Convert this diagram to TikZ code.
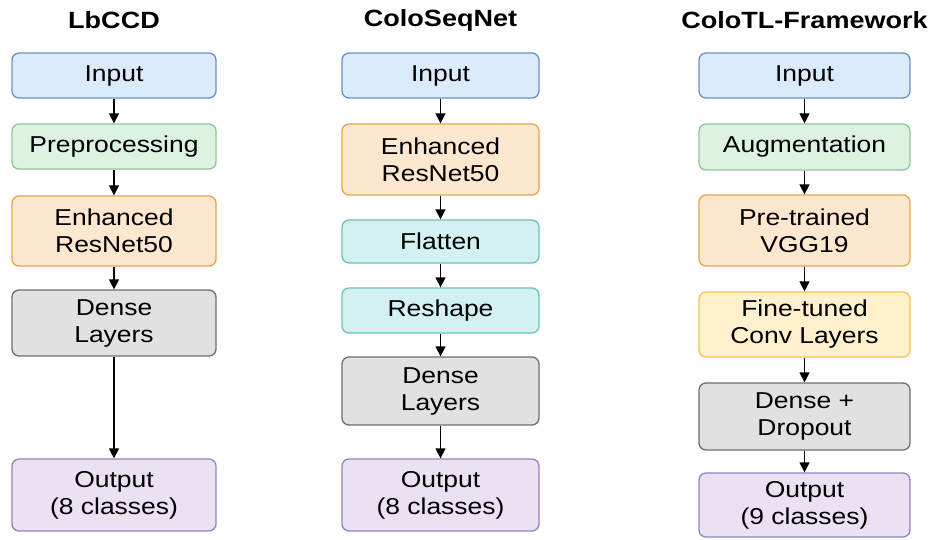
\documentclass[tikz,border=0pt]{standalone}
\usepackage{fontspec}
\setmainfont{Liberation Sans}[FakeStretch=1.15]
\usepackage{tikz}
\usetikzlibrary{arrows.meta}
\definecolor{inFill}{HTML}{DCEBFB}\definecolor{inDraw}{HTML}{6F8FC8}
\definecolor{preFill}{HTML}{DDF2E0}\definecolor{preDraw}{HTML}{8FC79A}
\definecolor{netFill}{HTML}{FDE8CF}\definecolor{netDraw}{HTML}{E3A54A}
\definecolor{ftFill}{HTML}{FFF1CE}\definecolor{ftDraw}{HTML}{EFC253}
\definecolor{seqFill}{HTML}{D3F1F1}\definecolor{seqDraw}{HTML}{6CBFC0}
\definecolor{denFill}{HTML}{E1E1E1}\definecolor{denDraw}{HTML}{6E6E6E}
\definecolor{outFill}{HTML}{EAE1F3}\definecolor{outDraw}{HTML}{9B80C0}
\tikzset{
  every picture/.style={x=1pt,y=-1pt},
}

\begin{document}
\begin{tikzpicture}[
        block/.style={
             rectangle
            , align=center
            , rounded corners=7pt
            , line width=1.3pt
            , inner sep=0pt
            , font=\fontsize{23}{27}\selectfont
        },
        title/.style={font=\fontsize{23.5}{27}\selectfont\bfseries},
        flow/.style={-{Triangle[length=10pt,width=10pt]}, line width=1.4pt},
        inbox/.style={block, fill=inFill, draw=inDraw},
        prebox/.style={block, fill=preFill, draw=preDraw},
        netbox/.style={block, fill=netFill, draw=netDraw},
        ftbox/.style={block, fill=ftFill, draw=ftDraw},
        seqbox/.style={block, fill=seqFill, draw=seqDraw},
        denbox/.style={block, fill=denFill, draw=denDraw},
        outbox/.style={block, fill=outFill, draw=outDraw},
        colA/.style={minimum width=204pt},
        colB/.style={minimum width=197pt},
        colC/.style={minimum width=211pt}
        ]
        \useasboundingbox (0,0) rectangle (933,539);

        % LbCCD
        \node[title] (tA) at (114,20) {LbCCD};
        \node[inbox,colA,minimum height=45pt] (inA) at (114,75.5) {Input};
        \node[prebox,colA,minimum height=45pt] (preA) at (114,146.5) {Preprocessing};
        \node[netbox,colA,minimum height=70pt] (resA) at (114,231) {Enhanced\\ResNet50};
        \node[denbox,colA,minimum height=66pt] (denA) at (114,323) {Dense\\Layers};
        \node[outbox,colA,minimum height=72pt] (outA) at (114,495) {Output\\(8 classes)};

        \draw[flow] (inA) -- (preA);
        \draw[flow] (preA) -- (resA);
        \draw[flow] (resA) -- (denA);
        \draw[flow] (denA) -- (outA);

        % ColoSeqNet
        \node[title] (tB) at (440.5,20) {ColoSeqNet};
        \node[inbox,colB,minimum height=45pt] (inB) at (440.5,75.5) {Input};
        \node[netbox,colB,minimum height=71pt] (resB) at (440.5,159.5) {Enhanced\\ResNet50};
        \node[seqbox,colB,minimum height=43pt] (flaB) at (440.5,241.5) {Flatten};
        \node[seqbox,colB,minimum height=45pt] (shpB) at (440.5,310.5) {Reshape};
        \node[denbox,colB,minimum height=68pt] (denB) at (440.5,391) {Dense\\Layers};
        \node[outbox,colB,minimum height=72pt] (outB) at (440.5,495) {Output\\(8 classes)};

        \draw[flow] (inB) -- (resB);
        \draw[flow] (resB) -- (flaB);
        \draw[flow] (flaB) -- (shpB);
        \draw[flow] (shpB) -- (denB);
        \draw[flow] (denB) -- (outB);

        % ColoTL-Framework
        \node[title] (tC) at (804.5,20) {ColoTL-Framework};
        \node[inbox,colC,minimum height=45pt] (inC) at (804.5,75.5) {Input};
        \node[prebox,colC,minimum height=46pt] (augC) at (804.5,147) {Augmentation};
        \node[netbox,colC,minimum height=71pt] (vggC) at (804.5,230.5) {Pre-trained\\VGG19};
        \node[ftbox,colC,minimum height=65pt] (finC) at (804.5,324.5) {Fine-tuned\\Conv Layers};
        \node[denbox,colC,minimum height=67pt] (denC) at (804.5,416.5) {Dense +\\Dropout};
        \node[outbox,colC,minimum height=64pt] (outC) at (804.5,505) {Output\\(9 classes)};

        \draw[flow] (inC) -- (augC);
        \draw[flow] (augC) -- (vggC);
        \draw[flow] (vggC) -- (finC);
        \draw[flow] (finC) -- (denC);
        \draw[flow] (denC) -- (outC);

    \end{tikzpicture}
\end{document}
